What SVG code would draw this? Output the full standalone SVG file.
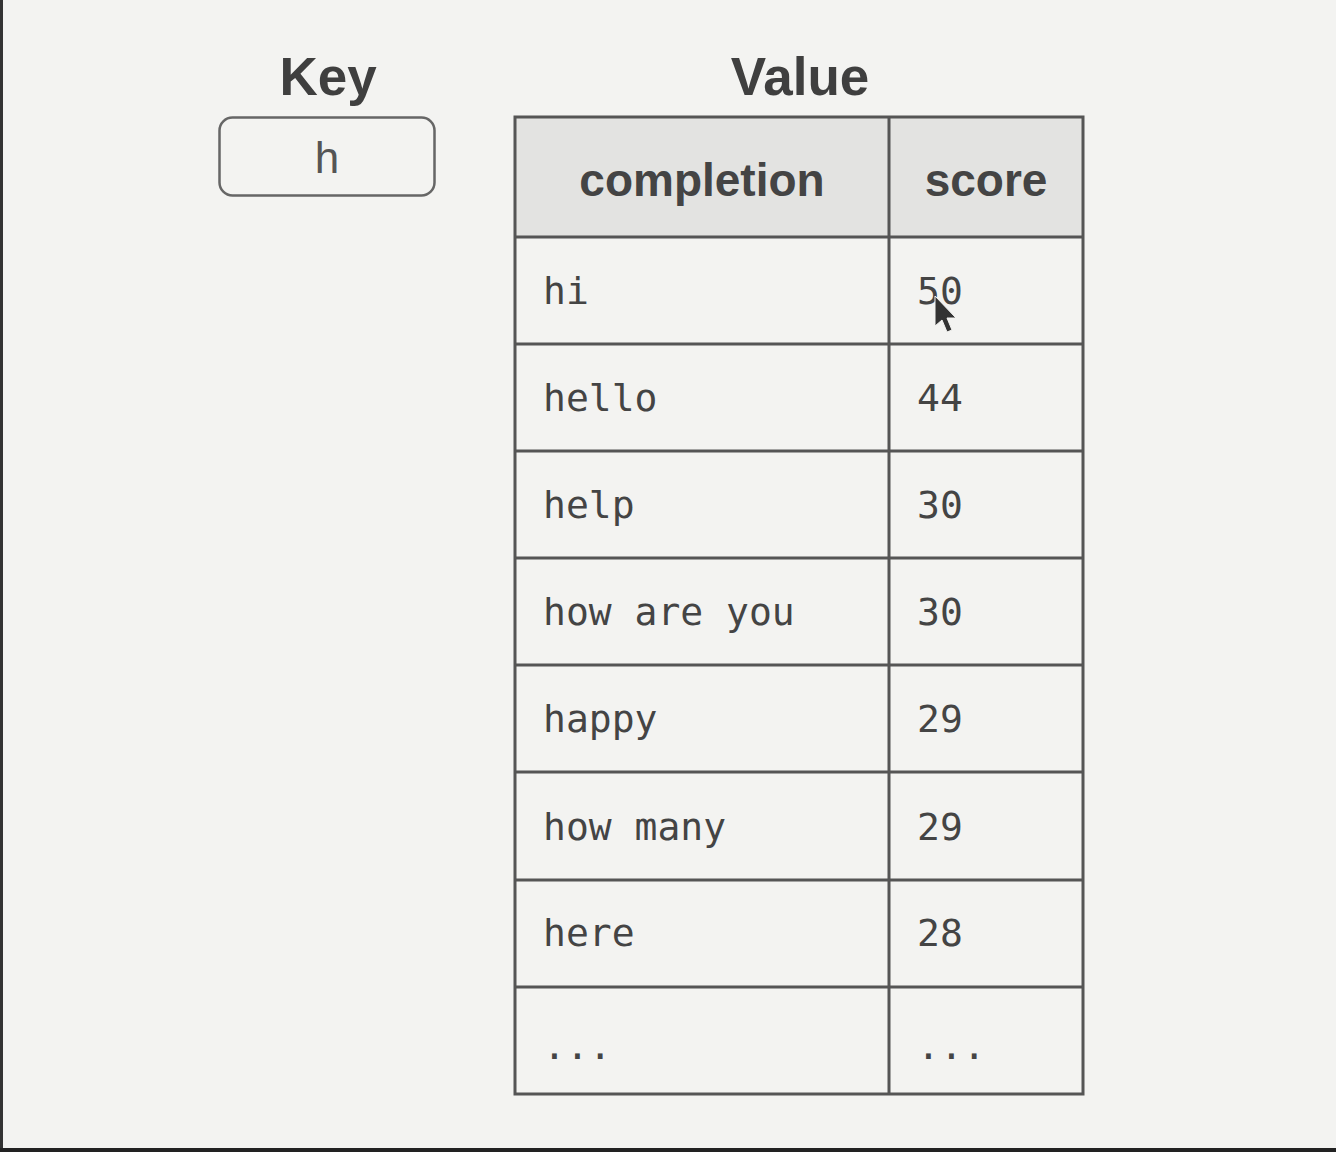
<svg xmlns="http://www.w3.org/2000/svg" width="1336" height="1152" viewBox="0 0 1336 1152">
<style>
.title{font-family:"Liberation Sans",Arial,sans-serif;font-weight:bold;font-size:53px;fill:#3f3f3f;text-anchor:middle}
.hdr{font-family:"Liberation Sans",Arial,sans-serif;font-weight:bold;font-size:46px;fill:#444;text-anchor:middle}
.mono{font-family:"DejaVu Sans Mono","Liberation Mono",monospace;font-size:38px;fill:#444}
.grid{stroke:#555;stroke-width:3;fill:none}
</style>
<rect x="0" y="0" width="1336" height="1152" fill="#f3f3f1"/>
<rect x="0" y="0" width="3" height="1152" fill="#333"/>
<rect x="0" y="1148" width="1336" height="4" fill="#222"/>
<g id="key">
<text class="title" x="328" y="95">Key</text>
<rect x="219.5" y="117.5" width="215" height="78" rx="13" fill="#f3f3f1" stroke="#666" stroke-width="2.5"/>
<text x="327" y="173" font-family="Liberation Sans,Arial,sans-serif" font-size="44" fill="#555" text-anchor="middle">h</text>
</g>
<g id="value">
<text class="title" x="800" y="95">Value</text>
<rect x="515" y="117" width="568" height="120" fill="#e3e3e1"/>
<rect x="515" y="237" width="568" height="857" fill="#f3f3f1"/>
<g class="grid">
<rect x="515" y="117" width="568" height="977"/>
<line x1="889" y1="117" x2="889" y2="1094"/>
<line x1="515" y1="237" x2="1083" y2="237"/>
<line x1="515" y1="344" x2="1083" y2="344"/>
<line x1="515" y1="451" x2="1083" y2="451"/>
<line x1="515" y1="558" x2="1083" y2="558"/>
<line x1="515" y1="665" x2="1083" y2="665"/>
<line x1="515" y1="772" x2="1083" y2="772"/>
<line x1="515" y1="880" x2="1083" y2="880"/>
<line x1="515" y1="987" x2="1083" y2="987"/>
</g>
<text class="hdr" x="702" y="196">completion</text>
<text class="hdr" x="986" y="196">score</text>
<g class="mono">
<text x="543" y="304">hi</text><text x="917" y="304">50</text>
<text x="543" y="411">hello</text><text x="917" y="411">44</text>
<text x="543" y="518">help</text><text x="917" y="518">30</text>
<text x="543" y="625">how are you</text><text x="917" y="625">30</text>
<text x="543" y="732">happy</text><text x="917" y="732">29</text>
<text x="543" y="840">how many</text><text x="917" y="840">29</text>
<text x="543" y="946">here</text><text x="917" y="946">28</text>
<text x="543" y="1059">...</text><text x="917" y="1059">...</text>
</g>
<path d="M935,296 L935,326 L942,320 L947,332 L952,330 L947,318 L956,318 Z" fill="#333" stroke="#f3f3f1" stroke-width="1"/>
</g>
</svg>
